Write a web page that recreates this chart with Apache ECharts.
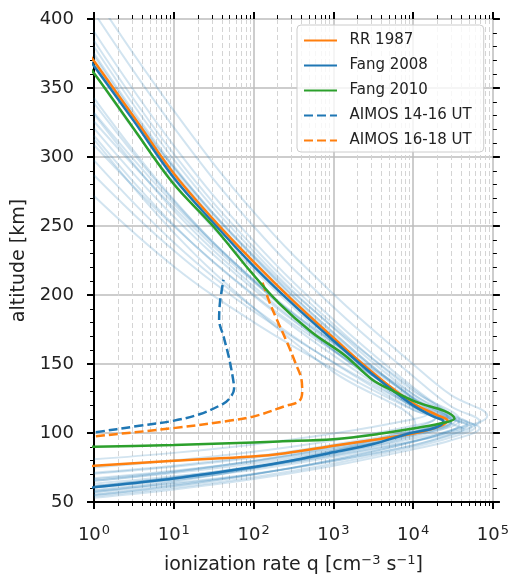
<!DOCTYPE html>
<html>
<head>
<meta charset="utf-8">
<script src="https://cdn.jsdelivr.net/npm/echarts@6/dist/echarts.min.js"></script>
<style>
  html, body { margin: 0; padding: 0; background: #fff; }
  #chart { width: 512px; height: 580px; }
</style>
</head>
<body>
<div id="chart"></div>
<script>
// ionization rate profiles, points are [q (cm^-3 s^-1), altitude (km)]
var rr1987 = [[0.6, 388], [1, 369.5], [3.16, 329], [10, 288], [31.6, 254.5], [100, 224], [316, 195.5],
    [1000, 169], [3162, 143.5], [1e4, 121.5], [2e4, 113], [2.7e4, 109], [2.3e4, 105.5], [1.2e4, 100.5],
    [3600, 95.5], [1000, 90.7], [250, 85.4], [95, 83], [10, 79.9], [1, 76.2], [0.5, 75.5]];
var fang2008 = [[0.6, 384], [1, 366], [3.16, 326], [10, 285], [31.6, 252], [100, 221], [316, 193],
    [1000, 167], [3162, 142], [1e4, 120], [1.78e4, 112], [2.4e4, 108.5], [2.2e4, 105.5], [1.6e4, 102.5],
    [9300, 100], [3162, 92], [1000, 86], [316, 80.3], [100, 75.3], [10, 67], [1, 60.6], [0.5, 58.8]];
var fang2010 = [[0.6, 376], [1, 360.7], [3.1, 321], [9.8, 281], [31, 250], [95, 216], [209, 194],
    [537, 173], [1413, 156], [3020, 139], [5370, 131], [1.15e4, 122], [2.45e4, 116], [3.3e4, 110.5],
    [2.6e4, 107.8], [1.05e4, 103.5], [3630, 99.2], [1000, 95.5], [209, 93.9], [100, 93.2], [10, 91.3],
    [1, 90], [0.5, 89.6]];
var aimos1416 = [[0.5, 98], [1, 100.4], [3.7, 105.2], [9.8, 108.8], [21, 113.6], [41, 121], [50, 125],
    [57, 132], [55, 140], [49, 155], [42, 170], [37, 182], [38, 195], [42, 211]];
var aimos1618 = [[0.5, 95.5], [1, 97.5], [9.8, 103.5], [49, 108.8], [107, 112.4], [251, 119.6], [372, 123],
    [407, 130], [398, 139], [339, 150], [275, 163], [190, 184], [158, 195], [126, 211]];

// faint ensemble profiles: altitude at each q of qGrid (upper branch / lower branch), and the peak
var qGrid = [1, 10, 100, 1000, 1e4, 3e4];
var ensUp = [
    [417.3, 333.6, 260.2, 200.7, 149.9, 127.4],
    [404.7, 321.5, 249.8, 191.3, 141.2, 119.2],
    [390.8, 308.3, 239.2, 182.2, 133.1, 113.6],
    [384.2, 302.2, 234.8, 178.8, 130.4, null],
    [379.9, 298.1, 231.6, 176.1, 128.1, null],
    [375.1, 293.6, 227.9, 172.9, 125.2, null],
    [373.3, 292.1, 227.2, 172.7, 125.4, null],
    [367.5, 289.4, 224.6, 170.9, 124.6, 106.9],
    [339.0, 268.1, 210.9, 163.1, 121.6, null],
    [332.1, 266.1, 210.9, 165.3, 126.0, 110.4],
    [331.0, 261.3, 206.3, 159.8, 119.4, null],
    [325.7, 263.3, 209.5, 165.6, 128.0, 111.5],
    [320.8, 256.8, 204.2, 160.6, 122.8, null],
    [315.5, 250.7, 199.5, 156.3, 118.7, null],
    [308.7, 249.9, 200.3, 159.5, 124.3, 110.0],
    [297.5, 238.1, 190.8, 150.9, 116.9, null],
    [286.8, 232.2, 188.2, 151.3, 119.4, null],
    [271.7, 220.7, 180.4, 146.4, 116.7, null],
    [360.9, 281.6, 218.6, 165.3, 120.0, null],
    [367.2, 292.5, 228.8, 176.6, 131.8, 112.8],
    [342.7, 269.0, 210.1, 160.1, 118.7, null],
    [312.7, 245.2, 190.7, 144.3, null, null]
];
var ensPeak = [
    [8.5e4, 112.5], [6.8e4, 108.5], [4.8e4, 107.5], [3.8e4, 109.5], [3.4e4, 109.5], [3.0e4, 109],
    [2.7e4, 111.5], [4.3e4, 102.5], [3.0e4, 107.5], [4.8e4, 105.5], [2.4e4, 109.5], [6.8e4, 103.5],
    [3.8e4, 106.5], [2.4e4, 109.5], [5.4e4, 104.5], [1.9e4, 110.5], [3.0e4, 108.5], [2.4e4, 109.5],
    [1.9e4, 111.5], [6.0e4, 104.5], [1.5e4, 113.5], [1.07e4, 106.5]
];
var ensLow = [
    [61.5, 67.5, 74.7, 84.1, 95.9, 102.1],
    [60.6, 66.3, 73.4, 82.6, 94.0, 100.1],
    [55.4, 61.9, 70.0, 80.5, 93.4, 102.1],
    [65.4, 71.0, 78.1, 87.4, 98.6, null],
    [70.5, 75.5, 82.0, 90.2, 100.4, null],
    [60.5, 66.9, 75.0, 85.4, 98.2, null],
    [58.5, 65.5, 74.5, 86.2, 100.3, null],
    [58.1, 63.7, 70.5, 79.8, 91.0, 99.1],
    [61.4, 67.5, 75.2, 85.1, 97.2, null],
    [63.3, 68.6, 75.2, 83.7, 94.1, 101.2],
    [71.2, 76.3, 82.9, 91.5, 101.9, null],
    [53.1, 59.1, 66.6, 76.2, 88.2, 94.7],
    [55.0, 61.6, 69.9, 80.7, 93.8, null],
    [66.4, 72.1, 79.6, 89.2, 100.9, null],
    [57.1, 63.0, 70.2, 79.6, 91.2, 98.5],
    [75.0, 80.0, 86.4, 94.6, 105.2, null],
    [67.3, 72.7, 79.6, 88.4, 99.3, null],
    [61.6, 68.0, 76.3, 87.0, 100.0, null],
    [57.1, 64.7, 74.6, 87.1, 103.5, null],
    [54.4, 60.4, 68.0, 77.7, 89.8, 96.9],
    [80.9, 85.6, 91.7, 99.6, 110.0, null],
    [65.4, 71.8, 79.9, 90.3, null, null]
];

var xMinorTicks = [2, 3, 4, 5, 6, 7, 8, 9, 20, 30, 40, 50, 60, 70, 80, 90,
    200, 300, 400, 500, 600, 700, 800, 900, 2000, 3000, 4000, 5000, 6000, 7000, 8000, 9000,
    2e4, 3e4, 4e4, 5e4, 6e4, 7e4, 8e4, 9e4];
var legendNames = ['RR 1987', 'Fang 2008', 'Fang 2010', 'AIMOS 14-16 UT', 'AIMOS 16-18 UT'];

var FONT = 'DejaVu Sans';
var chart = echarts.init(document.getElementById('chart'), null, { renderer: 'canvas' });

var series = [];
// faint profiles first so that the main ones sit on top
for (var i = 0; i < ensUp.length; i++) {
    var pts = [];
    for (var j = 0; j < qGrid.length; j++) {
        if (ensUp[i][j] != null) pts.push([qGrid[j], ensUp[i][j]]);
    }
    pts.push(ensPeak[i]);
    for (j = qGrid.length - 1; j >= 0; j--) {
        if (ensLow[i][j] != null) pts.push([qGrid[j], ensLow[i][j]]);
    }
    series.push({
        type: 'line', data: pts, symbol: 'none', smooth: 0.4, silent: true,
        lineStyle: { color: 'rgba(31,119,180,0.2)', width: 2 },
        emphasis: { disabled: true }, z: 2
    });
}

function mainLine(name, data, color, dashed) {
    return {
        name: name, type: 'line', data: data, symbol: 'none', smooth: 0.35, silent: true,
        lineStyle: { color: color, width: 2.5, type: dashed ? [9, 4] : 'solid' },
        itemStyle: { color: color },
        emphasis: { disabled: true }, z: 5
    };
}
series.push(mainLine('AIMOS 14-16 UT', aimos1416, '#1f77b4', true));
series.push(mainLine('AIMOS 16-18 UT', aimos1618, '#ff7f0e', true));
series.push(mainLine('RR 1987', rr1987, '#ff7f0e', false));
series.push(mainLine('Fang 2008', fang2008, '#1f77b4', false));
series.push(mainLine('Fang 2010', fang2010, '#2ca02c', false));

var tickCol = '#000';
var option = {
    animation: false,
    textStyle: { fontFamily: FONT },
    grid: { left: 94, right: 17, top: 19, bottom: 77 },
    legend: {
        data: legendNames,
        orient: 'vertical',
        left: 297, top: 25,
        padding: [8, 12, 4, 6],
        itemWidth: 33, itemHeight: 14, itemGap: 10,
        itemStyle: { opacity: 0 },
        backgroundColor: 'rgba(255,255,255,0.8)',
        borderColor: '#cccccc', borderWidth: 1, borderRadius: 4,
        formatter: function (name) { return '\u2002' + name; },
        textStyle: { fontFamily: FONT, fontSize: 15, color: '#222' }
    },
    xAxis: [
        {
            type: 'log', logBase: 10, min: 1, max: 1e5,
            name: '{t|ionization rate q [cm}{s|−3}{t| s}{s|−1}{t|]}',
            nameLocation: 'middle', nameGap: 52,
            nameTextStyle: {
                rich: {
                    t: { fontFamily: FONT, fontSize: 19, color: '#222' },
                    s: { fontFamily: FONT, fontSize: 13, color: '#222', verticalAlign: 'top', padding: [0, 0, 10, 0] }
                }
            },
            axisLine: { show: true, onZero: false, lineStyle: { color: tickCol, width: 2 } },
            axisTick: { show: true, inside: false, length: 7, lineStyle: { color: tickCol, width: 2 } },
            axisLabel: {
                margin: 22,
                formatter: function (v) { return '{b|10}{e|' + Math.round(Math.log10(v)) + '}'; },
                rich: {
                    b: { fontFamily: FONT, fontSize: 18, color: '#222' },
                    e: { fontFamily: FONT, fontSize: 13, color: '#222', verticalAlign: 'top', padding: [0, 0, 10, 1] }
                }
            },
            splitLine: { show: true, lineStyle: { color: '#bdbdbd', width: 1.5 } }
        },
        {
            type: 'log', logBase: 10, min: 1, max: 1e5, position: 'top',
            axisLine: { show: false },
            axisTick: { show: true, inside: false, length: 7, lineStyle: { color: tickCol, width: 2 } },
            axisLabel: { show: false }, splitLine: { show: false }
        },
        {
            type: 'log', logBase: 10, min: 1, max: 1e5, position: 'bottom',
            axisLine: { show: false },
            axisTick: { show: true, inside: false, length: 4, customValues: xMinorTicks, lineStyle: { color: tickCol, width: 1 } },
            axisLabel: { show: false },
            splitLine: { show: true, lineStyle: { color: '#d4d4d4', width: 1, type: [5, 3] } }
        },
        {
            type: 'log', logBase: 10, min: 1, max: 1e5, position: 'top',
            axisLine: { show: false },
            axisTick: { show: true, inside: false, length: 4, customValues: xMinorTicks, lineStyle: { color: tickCol, width: 1 } },
            axisLabel: { show: false }, splitLine: { show: false }
        }
    ],
    yAxis: [
        {
            type: 'value', min: 50, max: 400, interval: 50,
            name: 'altitude [km]', nameLocation: 'middle', nameGap: 62,
            nameTextStyle: { fontFamily: FONT, fontSize: 19, color: '#222' },
            axisLine: { show: true, onZero: false, lineStyle: { color: tickCol, width: 2 } },
            axisTick: { show: true, inside: false, length: 7, lineStyle: { color: tickCol, width: 2 } },
            minorTick: { show: true, splitNumber: 5, length: 4, lineStyle: { color: tickCol, width: 1 } },
            axisLabel: { margin: 20, fontFamily: FONT, fontSize: 18, color: '#222' },
            splitLine: { show: true, lineStyle: { color: '#bdbdbd', width: 1.5 } }
        },
        {
            type: 'value', min: 50, max: 400, interval: 50, position: 'right',
            axisLine: { show: false },
            axisTick: { show: true, inside: false, length: 7, lineStyle: { color: tickCol, width: 2 } },
            minorTick: { show: true, splitNumber: 5, length: 4, lineStyle: { color: tickCol, width: 1 } },
            axisLabel: { show: false }, splitLine: { show: false }
        }
    ],
    series: series
};
chart.setOption(option);
</script>
</body>
</html>
